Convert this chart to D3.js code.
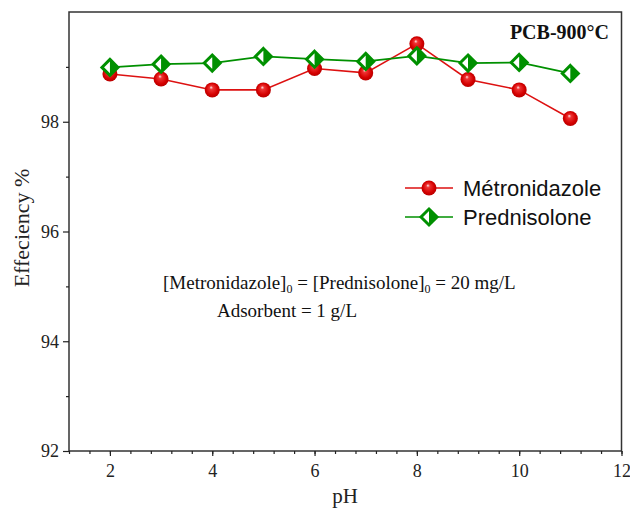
<!DOCTYPE html>
<html>
<head>
<meta charset="utf-8">
<script src="https://cdn.jsdelivr.net/npm/d3@7"></script>
<style>
  body { margin: 0; background: #fff; }
</style>
</head>
<body>
<div id="chart"></div>
<script>
// data
let pH = [2, 3, 4, 5, 6, 7, 8, 9, 10, 11]
let metronidazole = [98.87, 98.78, 98.58, 98.58, 98.97, 98.89, 99.42, 98.77, 98.58, 98.06]
let prednisolone = [98.99, 99.05, 99.07, 99.19, 99.14, 99.10, 99.20, 99.07, 99.08, 98.88]
let xTicks = [2, 4, 6, 8, 10, 12]
let yTicks = [92, 94, 96, 98]
let seriesNames = ["Métronidazole", "Prednisolone"]

let width = 630,
    height = 512
let margin = {top: 12, right: 8, bottom: 61, left: 69}
let serif = "'Liberation Serif', 'Times New Roman', serif"

let svg = d3.select("#chart").append("svg")
    .attr("width", width)
    .attr("height", height)
    .style("font-family", serif)

let x = d3.scaleLinear()
    .domain([1.2, 12])
    .range([margin.left, width - margin.right - 0.5])

let y = d3.scaleLinear()
    .domain([92, 100])
    .range([height - margin.bottom, margin.top])

let red = "#dd1111",
    green = "#009000"

// sphere look for the red markers
let defs = svg.append("defs")
let grad = defs.append("radialGradient")
    .attr("id", "ball")
    .attr("cx", "50%").attr("cy", "50%").attr("r", "55%")
    .attr("fx", "42%").attr("fy", "32%")
grad.append("stop").attr("offset", "0%").attr("stop-color", "#ffe8e8")
grad.append("stop").attr("offset", "22%").attr("stop-color", "#ee3333")
grad.append("stop").attr("offset", "70%").attr("stop-color", "#d40000")
grad.append("stop").attr("offset", "100%").attr("stop-color", "#b00000")

// frame
svg.append("rect")
    .attr("x", x.range()[0])
    .attr("y", y.range()[1])
    .attr("width", x.range()[1] - x.range()[0])
    .attr("height", y.range()[0] - y.range()[1])
    .attr("fill", "none")
    .attr("stroke", "#333")
    .attr("stroke-width", 1.5)

// x axis with minor ticks every 0.4
let xMinor = d3.range(0, 28).map(i => +(1.2 + i * 0.4).toFixed(1))
svg.append("g")
    .attr("transform", `translate(0,${y.range()[0]})`)
    .call(d3.axisBottom(x).tickValues(xMinor).tickSize(3).tickFormat(""))
    .call(g => g.select(".domain").remove())
let gx = svg.append("g")
    .attr("transform", `translate(0,${y.range()[0]})`)
    .call(d3.axisBottom(x).tickValues(xTicks).tickSize(5).tickPadding(8))
gx.select(".domain").remove()

// y axis with minor ticks at odd values
svg.append("g")
    .attr("transform", `translate(${x.range()[0]},0)`)
    .call(d3.axisLeft(y).tickValues([93, 95, 97, 99]).tickSize(3).tickFormat(""))
    .call(g => g.select(".domain").remove())
let gy = svg.append("g")
    .attr("transform", `translate(${x.range()[0]},0)`)
    .call(d3.axisLeft(y).tickValues(yTicks).tickSize(6).tickPadding(4))
gy.select(".domain").remove()

svg.selectAll(".tick text")
    .style("font-family", serif)
    .style("font-size", "18px")
    .attr("fill", "#222")
svg.selectAll(".tick line").attr("stroke", "#222").attr("stroke-width", 1.2)

// axis titles
svg.append("text")
    .attr("x", 345)
    .attr("y", 503)
    .attr("text-anchor", "middle")
    .style("font-size", "21px")
    .attr("fill", "#222")
    .text("pH")
svg.append("text")
    .attr("transform", "translate(29,228) rotate(-90)")
    .attr("text-anchor", "middle")
    .style("font-size", "22px")
    .attr("fill", "#222")
    .text("Effeciency %")

// lines
let line = d3.line()
    .x((d, i) => x(pH[i]))
    .y(d => y(d))

svg.append("path")
    .datum(metronidazole)
    .attr("d", line)
    .attr("fill", "none")
    .attr("stroke", red)
    .attr("stroke-width", 1.6)

svg.append("path")
    .datum(prednisolone)
    .attr("d", line)
    .attr("fill", "none")
    .attr("stroke", green)
    .attr("stroke-width", 1.8)

// markers
function ball(sel) {
  sel.append("circle")
      .attr("r", 7.5)
      .attr("fill", "url(#ball)")
}
function diamond(sel) {
  let s = 8
  sel.append("path")
      .attr("d", `M0,${-s}L${s},0L0,${s}L${-s},0Z`)
      .attr("fill", "#fff")
      .attr("stroke", green)
      .attr("stroke-width", 3)
      .attr("stroke-linejoin", "miter")
  sel.append("path")
      .attr("d", `M0,${-s}L${s},0L0,${s}Z`)
      .attr("fill", green)
}

svg.selectAll(".red-pt")
    .data(metronidazole)
  .enter().append("g")
    .attr("class", "red-pt")
    .attr("transform", (d, i) => `translate(${x(pH[i])},${y(d)})`)
    .call(ball)

svg.selectAll(".green-pt")
    .data(prednisolone)
  .enter().append("g")
    .attr("class", "green-pt")
    .attr("transform", (d, i) => `translate(${x(pH[i])},${y(d)})`)
    .call(diamond)

// legend
let legend = svg.append("g").attr("transform", "translate(405,188)")
let rows = [{name: seriesNames[0], color: red, mark: ball},
            {name: seriesNames[1], color: green, mark: diamond}]
rows.forEach(function(r, i) {
  let row = legend.append("g").attr("transform", `translate(0,${i * 29})`)
  row.append("line")
      .attr("x1", 0).attr("x2", 48)
      .attr("stroke", r.color)
      .attr("stroke-width", 1.7)
  row.append("g").attr("transform", "translate(24,0)").call(r.mark)
  row.append("text")
      .attr("x", 58)
      .attr("y", 8)
      .style("font-family", "'Liberation Sans', Arial, sans-serif")
      .style("font-size", "22px")
      .attr("fill", "#111")
      .text(r.name)
})

// title in the corner
svg.append("text")
    .attr("x", 609)
    .attr("y", 39)
    .attr("text-anchor", "end")
    .style("font-size", "20px")
    .attr("font-weight", "bold")
    .attr("fill", "#111")
    .text("PCB-900°C")

// conditions note
let note = svg.append("text")
    .attr("x", 163)
    .attr("y", 289)
    .style("font-size", "19px")
    .attr("fill", "#111")
note.append("tspan").text("[Metronidazole]")
note.append("tspan").style("font-size", "12px").attr("dy", 4).text("0")
note.append("tspan").attr("dy", -4).text(" = [Prednisolone]")
note.append("tspan").style("font-size", "12px").attr("dy", 4).text("0")
note.append("tspan").attr("dy", -4).text(" = 20 mg/L")

svg.append("text")
    .attr("x", 217)
    .attr("y", 317)
    .style("font-size", "19px")
    .attr("fill", "#111")
    .text("Adsorbent = 1 g/L")
</script>
</body>
</html>
